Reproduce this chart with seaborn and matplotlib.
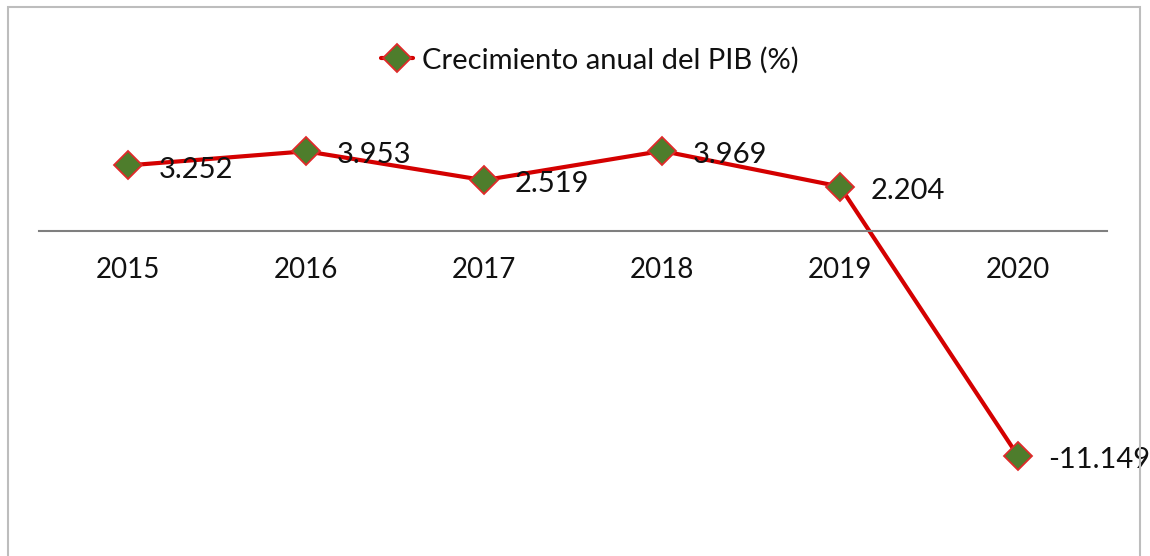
import matplotlib
matplotlib.use("Agg")
import matplotlib.pyplot as plt
import matplotlib.patches as mpatches
import seaborn as sns
import pandas as pd

years = [2015, 2016, 2017, 2018, 2019, 2020]
growth = [3.252, 3.953, 2.519, 3.969, 2.204, -11.149]
series_name = "Crecimiento anual del PIB (%)"

sns.set_theme(style="white")
plt.rcParams["font.family"] = ["Lato", "DejaVu Sans"]

df = pd.DataFrame({"Año": years, "PIB": growth})

W, H = 1150, 556
fig = plt.figure(figsize=(W / 100, H / 100), dpi=100)
ax = fig.add_axes([39 / W, 0.0, 1068 / W, (H - 90) / H])
ax.set_facecolor("none")

sns.lineplot(
    data=df, x="Año", y="PIB", ax=ax,
    color="#d40000", linewidth=3.0,
    marker="D", markersize=14, markerfacecolor="#4e7d2c",
    markeredgecolor="#e02a2a", markeredgewidth=1.3,
    label=series_name,
)

ax.set_xlim(2014.5, 2020.5)
ax.set_ylim(-16.11, 6.99)
ax.set_xticks(years)
ax.set_xticklabels([str(y) for y in years])
ax.set_yticks([])
ax.set_xlabel("")
ax.set_ylabel("")

for side in ("left", "right", "top"):
    ax.spines[side].set_visible(False)
ax.spines["bottom"].set_position(("data", 0))
ax.spines["bottom"].set_color("#7f7f7f")
ax.spines["bottom"].set_linewidth(1.5)
ax.tick_params(axis="x", length=0, pad=19, labelsize=20, labelcolor="#111111")

for x, y in zip(years, growth):
    ax.annotate(f"{y:.3f}", (x, y), xytext=(22, -3), textcoords="offset points",
                ha="left", va="center", fontsize=21, color="#111111")

leg = ax.legend(loc="center", bbox_to_anchor=(590 / W, 1 - 60 / H),
                bbox_transform=fig.transFigure, frameon=False, fontsize=21,
                handlelength=1.1, handletextpad=0.3)
for t in leg.get_texts():
    t.set_color("#111111")

frame = mpatches.Rectangle((8 / W, -0.05), (1140 - 8) / W, 1.05 - 7 / H,
                           transform=fig.transFigure, fill=False,
                           edgecolor="#bdbdbd", linewidth=1.5, clip_on=False)
fig.patches.append(frame)

fig.savefig("out.png", dpi=100)
